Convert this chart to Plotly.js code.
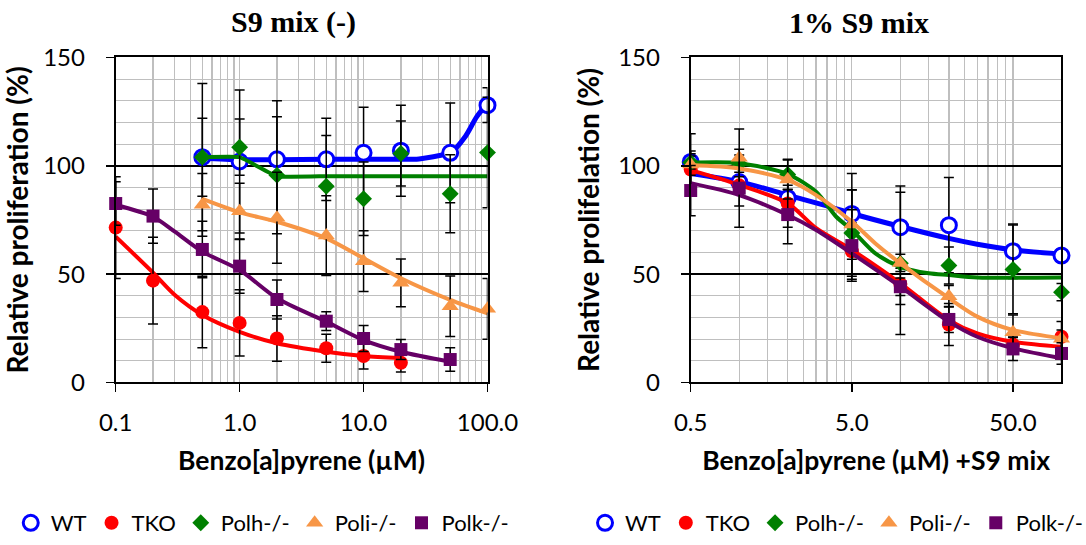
<!DOCTYPE html>
<html>
<head>
<meta charset="utf-8">
<script src="https://cdn.plot.ly/plotly-3.0.1.min.js"></script>
<style>html,body{margin:0;padding:0;background:#fff;}#chart{width:1086px;height:545px;}</style>
</head>
<body>
<div id="chart"></div>
<script>
// ---------- Left panel: S9 mix (-) ----------
var L_WT_x   = [0.5, 1, 2, 5, 10, 20, 50, 100];
var L_WT_y   = [104, 102, 103, 103, 106, 107, 106, 128];
var L_WT_e   = [34, 33, 27, 19, 21, 21, 23, 8];
var L_TKO_x  = [0.1, 0.2, 0.5, 1, 2, 5, 10, 20];
var L_TKO_y  = [71.5, 47, 32.5, 27.5, 20.3, 15.8, 12.2, 9.1];
var L_TKO_e  = [23.5, 20, 16.5, 15.3, 10.5, 6.5, 6, 4.3];
var L_Polh_x = [0.5, 1, 2, 5, 10, 20, 50, 100];
var L_Polh_y = [104, 108.6, 95.7, 90.6, 84.8, 105.7, 87.1, 106.1];
var L_Polh_e = [18, 13, 27, 23.4, 17, 15, 18, 25.5];
var L_Poli_x = [0.5, 1, 2, 5, 10, 20, 50, 100];
var L_Poli_y = [82, 79, 76, 67.8, 56, 46, 35.2, 34];
var L_Poli_e = [14.5, 13, 21, 18.4, 14, 11, 14, 14];
var L_Polk_x = [0.1, 0.2, 0.5, 1, 2, 5, 10, 20, 50];
var L_Polk_y = [82.6, 76.8, 61.4, 53.7, 38.3, 28.3, 20.3, 15.2, 10.6];
var L_Polk_e = [10, 12.5, 13, 12.5, 9, 4.3, 6, 4.6, 5.4];

// fitted curves
var L_WT_fx   = [0.5, 1, 2, 5, 10, 20, 28, 43, 50, 66, 82, 100];
var L_WT_fy   = [103.5, 102.8, 102.8, 103, 103, 103, 103.2, 105, 105.8, 113.4, 122.7, 128.8];
var L_TKO_fx  = [0.1, 0.2, 0.3, 0.5, 1, 2, 5, 10, 20];
var L_TKO_fy  = [67.3, 50.7, 40.4, 31.2, 23.4, 18.1, 14.2, 12.2, 11.2];
var L_Polh_fx = [0.5, 1, 2, 5, 10, 20, 50, 100];
var L_Polh_fy = [104, 104, 95.2, 95.2, 95.2, 95.2, 95.2, 95.2];
var L_Poli_fx = [0.5, 1, 2, 5, 10, 20, 50, 100];
var L_Poli_fy = [84.7, 78.5, 74.2, 66.5, 57.3, 48.1, 38.1, 31.9];
var L_Polk_fx = [0.1, 0.2, 0.3, 0.5, 1, 2, 5, 10, 20, 50];
var L_Polk_fy = [81.9, 76.5, 69.6, 60.4, 51.9, 38.9, 28.1, 19.6, 14.2, 9.6];

// ---------- Right panel: 1% S9 mix ----------
var R_x      = [0.5, 1, 2, 5, 10, 20, 50, 100];
var R_WT_y   = [101.8, 92.5, 85.2, 77.8, 71.7, 72.6, 60.6, 58.6];
var R_WT_e   = [13, 11, 4, 18.7, 19, 22, 12.6, 3];
var R_TKO_y  = [98.3, 91, 82.6, 60.6, 45.5, 26.8, 17.5, 21.1];
var R_TKO_e  = [8.5, 4, 11, 13, 9.5, 9.7, 4, 7];
var R_Polh_y = [101.5, 101, 96, 69, 55, 54, 52.2, 41.7];
var R_Polh_e = [3, 4, 7, 20, 32.8, 8.5, 20.5, 4];
var R_Poli_y = [100.6, 103.7, 93.7, 72.9, 55.2, 39.8, 23.2, 20.2];
var R_Poli_e = [5, 13.3, 9, 16, 4, 5, 8, 4];
var R_Polk_y = [88.6, 89.7, 77.5, 63.2, 44.2, 29.1, 15.5, 13.4];
var R_Polk_e = [11.6, 18, 13.5, 16.5, 4, 6, 5.3, 5];

var R_WT_fx   = [0.5, 1, 2, 3.5, 5, 10, 20, 30, 50, 100];
var R_WT_fy   = [96.5, 92.7, 86.5, 81.5, 78, 72, 66.5, 63.8, 61.2, 59.3];
var R_TKO_fx  = [0.5, 1, 2, 3, 5, 10, 20, 30, 50, 100];
var R_TKO_fy  = [98, 91.2, 82.7, 71.2, 61.2, 45.8, 28.8, 22.7, 18.8, 16.5];
var R_Polh_fx = [0.5, 1, 2, 3, 4, 5, 7, 10, 15, 20, 30, 100];
var R_Polh_fy = [101.4, 101.2, 96.2, 88, 76.5, 70.4, 59.6, 53.4, 50.4, 49.6, 48.5, 48.5];
var R_Poli_fx = [0.5, 1, 2, 3, 5, 7, 10, 20, 30, 50, 100];
var R_Poli_fy = [100.4, 98.8, 93.5, 86.5, 74.2, 64.2, 55, 38.9, 30.4, 24.2, 20.4];
var R_Polk_fx = [0.5, 1, 2, 3, 5, 10, 20, 30, 50, 100];
var R_Polk_fy = [92, 86.5, 77.3, 70.4, 59.6, 44.2, 28.1, 21.1, 15.8, 11.2];

var names = ['WT', 'TKO', 'Polh-/-', 'Poli-/-', 'Polk-/-'];
var colors = ['#0000FF', '#FF0000', '#008000', '#F79646', '#660066'];

var markerStyles = [
  {symbol: 'circle', size: 15, color: '#FFFFFF', line: {color: colors[0], width: 3}},
  {symbol: 'circle', size: 14, color: colors[1], line: {width: 0}},
  {symbol: 'diamond', size: 13, color: colors[2], line: {width: 0}},
  {symbol: 'triangle-up', size: 15, color: colors[3], line: {width: 0}},
  {symbol: 'square', size: 13, color: colors[4], line: {width: 0}}
];

var lineWidths = [5, 4, 4, 4, 4];

function curve(x, y, i, xa, ya, sm) {
  return {x: x, y: y, xaxis: xa, yaxis: ya, mode: 'lines', type: 'scatter',
          line: {color: colors[i], width: lineWidths[i], shape: 'spline', smoothing: sm},
          showlegend: false, hoverinfo: 'skip', cliponaxis: false};
}
function pts(x, y, e, i, xa, ya, leg) {
  return {x: x, y: y, xaxis: xa, yaxis: ya, mode: 'markers', type: 'scatter', name: names[i],
          legend: leg, marker: markerStyles[i], cliponaxis: false,
          error_y: {type: 'data', array: e, visible: true, color: '#000000', thickness: 1.5, width: 5}};
}

var data = [
  curve(L_WT_fx, L_WT_fy, 0, 'x', 'y', 0.8),     pts(L_WT_x, L_WT_y, L_WT_e, 0, 'x', 'y', 'legend'),
  curve(L_TKO_fx, L_TKO_fy, 1, 'x', 'y', 0.8),   pts(L_TKO_x, L_TKO_y, L_TKO_e, 1, 'x', 'y', 'legend'),
  curve(L_Polh_fx, L_Polh_fy, 2, 'x', 'y', 0.3), pts(L_Polh_x, L_Polh_y, L_Polh_e, 2, 'x', 'y', 'legend'),
  curve(L_Poli_fx, L_Poli_fy, 3, 'x', 'y', 0.8), pts(L_Poli_x, L_Poli_y, L_Poli_e, 3, 'x', 'y', 'legend'),
  curve(L_Polk_fx, L_Polk_fy, 4, 'x', 'y', 0.8), pts(L_Polk_x, L_Polk_y, L_Polk_e, 4, 'x', 'y', 'legend'),

  curve(R_WT_fx, R_WT_fy, 0, 'x2', 'y2', 0.8),     pts(R_x, R_WT_y, R_WT_e, 0, 'x2', 'y2', 'legend2'),
  curve(R_TKO_fx, R_TKO_fy, 1, 'x2', 'y2', 0.8),   pts(R_x, R_TKO_y, R_TKO_e, 1, 'x2', 'y2', 'legend2'),
  curve(R_Polh_fx, R_Polh_fy, 2, 'x2', 'y2', 0.8), pts(R_x, R_Polh_y, R_Polh_e, 2, 'x2', 'y2', 'legend2'),
  curve(R_Poli_fx, R_Poli_fy, 3, 'x2', 'y2', 0.8), pts(R_x, R_Poli_y, R_Poli_e, 3, 'x2', 'y2', 'legend2'),
  curve(R_Polk_fx, R_Polk_fy, 4, 'x2', 'y2', 0.8), pts(R_x, R_Polk_y, R_Polk_e, 4, 'x2', 'y2', 'legend2')
];

var L_tickvals = [0.1, 1, 10, 100];
var L_ticktext = ['0.1', '1.0', '10.0', '100.0'];
var L_minor = [0.2,0.3,0.4,0.5,0.6,0.7,0.8,0.9,2,3,4,5,6,7,8,9,20,30,40,50,60,70,80,90];
var R_tickvals = [0.5, 5, 50];
var R_ticktext = ['0.5', '5.0', '50.0'];
var R_minor = [1,1.5,2,2.5,3,3.5,4,4.5,10,15,20,25,30,35,40,45,100];
var Y_tickvals = [0, 50, 100, 150];

var tickFont = {family: 'Lato, sans-serif', size: 24, color: '#000'};
var xTitleFont = {family: 'Lato, sans-serif', size: 26.5, color: '#000', weight: 'bold'};
var yTitleFont = {family: 'Lato, sans-serif', size: 28, color: '#000', weight: 'bold'};
var gridGray = '#BFBFBF';

function xAxis(dom, rng, tv, tt, minor, title, anchor) {
  return {type: 'log', domain: dom, range: rng, anchor: anchor, automargin: false,
          tickmode: 'array', tickvals: tv, ticktext: tt,
          ticks: 'outside', ticklen: 8, tickwidth: 1.5, tickcolor: '#000',
          showline: true, linecolor: '#000', linewidth: 2, mirror: true,
          showgrid: true, gridcolor: gridGray, gridwidth: 1.3, zeroline: false,
          minor: {tickmode: 'array', tickvals: minor, showgrid: true, gridcolor: gridGray, gridwidth: 1.3, ticks: ''},
          tickfont: tickFont, ticklabelstandoff: 10,
          title: {text: title, font: xTitleFont, standoff: 16}};
}
function yAxis(dom, anchor, title) {
  return {domain: dom, range: [0, 150], anchor: anchor, automargin: false,
          tickmode: 'array', tickvals: Y_tickvals,
          ticks: 'outside', ticklen: 8, tickwidth: 1.5, tickcolor: '#000',
          showline: true, linecolor: '#000', linewidth: 2, mirror: true,
          showgrid: true, gridcolor: '#000', gridwidth: 1.5, zeroline: false,
          minor: {dtick: 10, showgrid: true, gridcolor: gridGray, gridwidth: 1.3, ticks: ''},
          tickfont: tickFont, ticklabelstandoff: 16,
          title: {text: title, font: yTitleFont, standoff: 10}};
}

var yDom = [0.29817, 0.89450];
var legendCommon = {orientation: 'h', yanchor: 'middle', y: 0.0404, xanchor: 'left',
                    font: {family: 'Lato, sans-serif', size: 22, color: '#000'},
                    bgcolor: 'rgba(0,0,0,0)', borderwidth: 0, itemclick: false, itemdoubleclick: false};

var layout = {
  width: 1086, height: 545,
  margin: {l: 0, r: 0, t: 0, b: 0, autoexpand: false},
  paper_bgcolor: '#fff', plot_bgcolor: '#fff',
  showlegend: true,
  xaxis: xAxis([0.10654, 0.44890], [-1, 2], L_tickvals, L_ticktext, L_minor, 'Benzo[a]pyrene (µM)', 'y'),
  yaxis: yAxis(yDom, 'x', 'Relative proliferation (%)'),
  xaxis2: xAxis([0.63600, 0.97744], [Math.log10(0.5), 2], R_tickvals, R_ticktext, R_minor, 'Benzo[a]pyrene (µM) +S9 mix', 'y2'),
  yaxis2: yAxis(yDom, 'x2', 'Relative prolifelation (%)'),
  legend: Object.assign({}, legendCommon, {x: 0.0099}),
  legend2: Object.assign({}, legendCommon, {x: 0.5387}),
  annotations: [
    {text: 'S9 mix (-)', xref: 'paper', yref: 'paper', x: 0.2698, y: 0.9596, xanchor: 'center', yanchor: 'middle',
     showarrow: false, font: {family: 'Liberation Serif, serif', size: 30, color: '#000', weight: 'bold'}},
    {text: '1% S9 mix', xref: 'paper', yref: 'paper', x: 0.7914, y: 0.9596, xanchor: 'center', yanchor: 'middle',
     showarrow: false, font: {family: 'Liberation Serif, serif', size: 30, color: '#000', weight: 'bold'}}
  ]
};

Plotly.newPlot('chart', data, layout, {displayModeBar: false, staticPlot: true});
</script>
</body>
</html>
